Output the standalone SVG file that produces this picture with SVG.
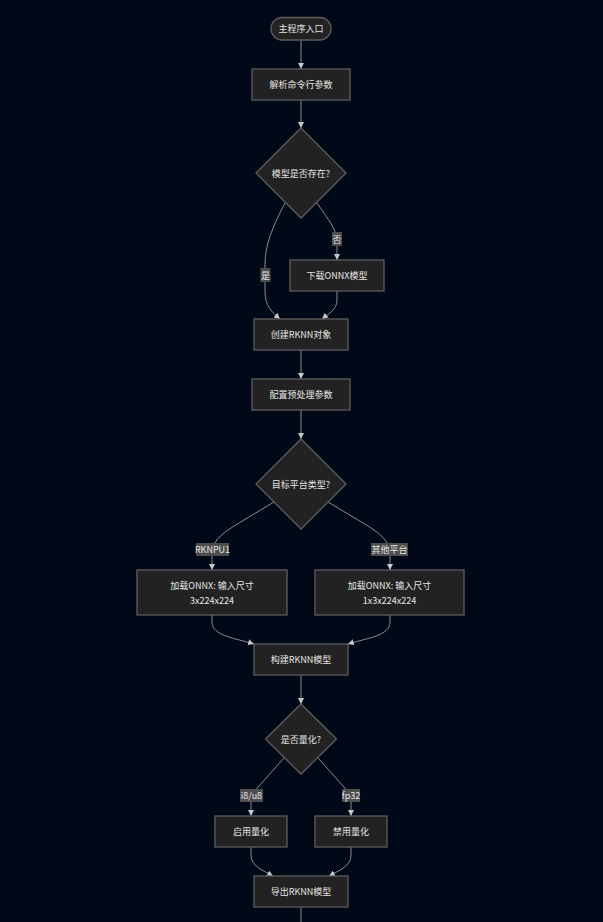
<svg xmlns="http://www.w3.org/2000/svg" width="603" height="922" viewBox="0 0 603 922">
<defs>
<style>
.n rect,.n polygon{fill:#222222;stroke:#5e5e5e;stroke-width:1.3}
.n text{fill:#e6e6e6;font-family:"Noto Sans CJK SC","Noto Sans",sans-serif;font-size:9px;text-anchor:middle;dominant-baseline:central}
.e path{fill:none;stroke:#8a8a8a;stroke-width:1}
.lb rect{fill:#4d4d4d;stroke:none}
.lb text{fill:#e6e6e6;font-family:"Noto Sans CJK SC","Noto Sans",sans-serif;font-size:9px;text-anchor:middle;dominant-baseline:central}
</style>
<marker id="ar" markerWidth="6" markerHeight="6" refX="6" refY="3" orient="auto" markerUnits="userSpaceOnUse">
<path d="M0,0 L6,3 L0,6 z" fill="#c8c8c8"/>
</marker>
</defs>
<rect x="0" y="0" width="603" height="922" fill="#010817"/>
<g id="edges" class="e">
<path d="M301,40 L301,69" marker-end="url(#ar)"/>
<path d="M301,100 L301,128" marker-end="url(#ar)"/>
<path d="M285,203 C272,228 265,245 265,265 L265,292 C265,306 272,312 280,319" marker-end="url(#ar)"/>
<path d="M317,203 C330,222 337,230 337,242 L337,260" marker-end="url(#ar)"/>
<path d="M337,291 L337,300 C337,310 328,314 322,319" marker-end="url(#ar)"/>
<path d="M301,350 L301,379" marker-end="url(#ar)"/>
<path d="M301,410 L301,439" marker-end="url(#ar)"/>
<path d="M274,502 L234,526 Q212,539 212,552 L212,570" marker-end="url(#ar)"/>
<path d="M328,502 L368,526 Q390,539 390,552 L390,570" marker-end="url(#ar)"/>
<path d="M212,615 L212,622 C212,636 235,638 254,644" marker-end="url(#ar)"/>
<path d="M390,615 L390,622 C390,636 367,638 348,644" marker-end="url(#ar)"/>
<path d="M301,675 L301,704" marker-end="url(#ar)"/>
<path d="M284,758 L259,786 Q251,794 251,802 L251,816" marker-end="url(#ar)"/>
<path d="M318,758 L343,786 Q351,794 351,802 L351,816" marker-end="url(#ar)"/>
<path d="M251,847 L251,855 C251,866 262,870 273,876" marker-end="url(#ar)"/>
<path d="M351,847 L351,855 C351,866 340,870 329,876" marker-end="url(#ar)"/>
<path d="M301,907 L301,922"/>
</g>
<g id="labels">
<g class="lb"><rect x="332" y="232" width="10" height="14"/><text x="337" y="239">否</text></g>
<g class="lb"><rect x="260.5" y="268" width="10" height="14"/><text x="265.5" y="275">是</text></g>
<g class="lb"><rect x="196" y="543" width="33" height="13"/><text x="212.5" y="549.5">RKNPU1</text></g>
<g class="lb"><rect x="371" y="543" width="37" height="13"/><text x="389.5" y="549.5">其他平台</text></g>
<g class="lb"><rect x="240" y="789" width="23" height="13"/><text x="251.5" y="795.5">i8/u8</text></g>
<g class="lb"><rect x="342" y="789" width="18" height="13"/><text x="351" y="795.5">fp32</text></g>
</g>
<g id="start" class="n"><rect x="271" y="17.5" width="60" height="22.5" rx="11.25"/><text x="301" y="28.75">主程序入口</text></g>
<g id="parse" class="n"><rect x="252" y="69" width="98" height="31"/><text x="301" y="84.5">解析命令行参数</text></g>
<g id="exists" class="n"><polygon points="301,128 346,173 301,218 256,173"/><text x="301" y="173">模型是否存在?</text></g>
<g id="download" class="n"><rect x="290" y="260" width="94" height="31"/><text x="337" y="275.5">下载ONNX模型</text></g>
<g id="create" class="n"><rect x="254" y="319" width="94" height="31"/><text x="301" y="334.5">创建RKNN对象</text></g>
<g id="config" class="n"><rect x="252" y="379" width="98" height="31"/><text x="301" y="394.5">配置预处理参数</text></g>
<g id="platform" class="n"><polygon points="301,439 346,484 301,529 256,484"/><text x="301" y="484">目标平台类型?</text></g>
<g id="load1" class="n"><rect x="137" y="570" width="150" height="45"/><text x="212" y="585.5">加载ONNX: 输入尺寸</text><text x="212" y="600">3x224x224</text></g>
<g id="load2" class="n"><rect x="315" y="570" width="149" height="45"/><text x="389.5" y="585.5">加载ONNX: 输入尺寸</text><text x="389.5" y="600">1x3x224x224</text></g>
<g id="build" class="n"><rect x="254" y="644" width="94" height="31"/><text x="301" y="659.5">构建RKNN模型</text></g>
<g id="quant" class="n"><polygon points="301,704 336.5,739 301,774 265.5,739"/><text x="301" y="739">是否量化?</text></g>
<g id="qon" class="n"><rect x="215" y="816" width="72" height="31"/><text x="251" y="831.5">启用量化</text></g>
<g id="qoff" class="n"><rect x="315" y="816" width="72" height="31"/><text x="351" y="831.5">禁用量化</text></g>
<g id="export" class="n"><rect x="254" y="876" width="94" height="31"/><text x="301" y="891.5">导出RKNN模型</text></g>
</svg>
